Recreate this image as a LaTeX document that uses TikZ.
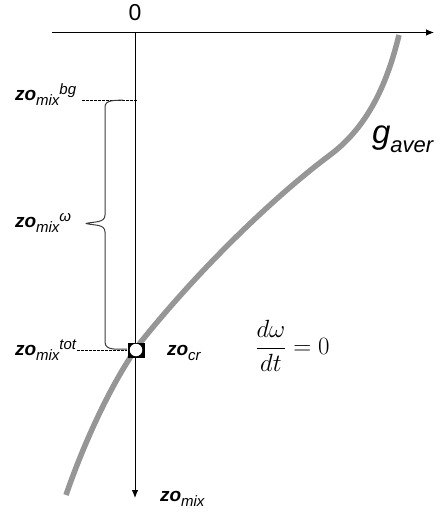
\documentclass[tikz,border=0pt]{standalone}
\usepackage{fontspec}
\setmainfont{Liberation Sans}
\usetikzlibrary{arrows.meta}
\definecolor{curvegray}{RGB}{150,150,150}
\definecolor{bracegray}{RGB}{60,60,60}
\newcommand{\mainsz}{\fontsize{19}{19}\selectfont}
\newcommand{\subsz}{\fontsize{15}{15}\selectfont}
\newcommand{\zobase}{{\mainsz\bfseries\itshape zo}}
\newcommand{\zomix}[1]{\zobase\raisebox{-5pt}{\subsz\itshape mix}\raisebox{6pt}{\subsz\itshape #1}}
\tikzset{
  lab/.style={inner sep=0pt, outer sep=0pt, text=black},
  axis/.style={line width=0.9pt, black},
  axisarrow/.style={axis, -{Latex[length=8pt,width=6.5pt]}},
  guide/.style={line width=0.7pt, black, dash pattern=on 2.5pt off 1.5pt},
  bracepath/.style={line width=1pt, bracegray, line join=round},
  gcurve/.style={line width=5.5pt, curvegray},
  marker/.style={draw=none, fill=black, minimum width=17pt, minimum height=15pt, inner sep=0pt},
  hole/.style={circle, fill=white, minimum size=12.5pt, inner sep=0pt}
}
\begin{document}
\begin{tikzpicture}[x=1pt,y=-1pt]
\useasboundingbox (0,0) rectangle (445,513);

% averaged profile g_aver
\draw[gcurve] (399,35) .. controls (388,80) and (370,125) .. (330,155)
  .. controls (275,196) and (200,268) .. (140,343)
  .. controls (112,382) and (85,440) .. (66,495);

% axes
\coordinate (xstart) at (52,32.5);
\coordinate (xend) at (434,32.5);
\coordinate (origin) at (135,32.5);
\coordinate (yend) at (135,498);
\draw[axisarrow] (xstart) -- (xend);
\draw[axisarrow] (origin) -- (yend);
\node[lab, anchor=base] (zero) at (135,21) {\fontsize{23}{23}\selectfont 0};

% critical point marker
\node[marker] (cr) at (136,350) {};
\node[hole] (crhole) at (cr.center) {};

% labels
\node[lab, anchor=base west] (bg) at (15,101) {\zomix{bg}};
\node[lab, anchor=base west] (om) at (15,227) {\zomix{ω}};
\node[lab, anchor=base west] (tot) at (15,355) {\zomix{tot}};
\node[lab, anchor=base west] (zocr) at (167,355) {\zobase\raisebox{-5pt}{\subsz\itshape cr}};
\node[lab, anchor=base west] (zoaxis) at (160,501) {\zobase\raisebox{-5pt}{\subsz\itshape mix}};
\node[lab, anchor=base west] (gaver) at (372,144) {{\fontsize{33}{33}\selectfont\itshape g}\raisebox{-9pt}{\fontsize{22}{22}\selectfont\itshape aver}};
\node[lab] (rate) at (292.5,346) {\fontsize{23}{23}\selectfont$\displaystyle\frac{d\omega}{dt}=0$};

% guide lines
\coordinate (bgL) at (82,100);
\coordinate (bgR) at (138,100);
\coordinate (totL) at (77,350);
\draw[guide] (bgL) -- (bgR);
\draw[guide] (totL) -- (cr.west);

% brace spanning the mixing depth
\coordinate (braceTop) at (123,100);
\coordinate (braceBot) at (127,349);
\draw[bracepath] (braceTop) to[out=185,in=90] (105,107) -- (105,215)
  to[out=-90,in=15] (86,223.5) to[out=-15,in=90] (105,232)
  -- (105,342) to[out=-90,in=180] (braceBot);
\end{tikzpicture}
\end{document}
